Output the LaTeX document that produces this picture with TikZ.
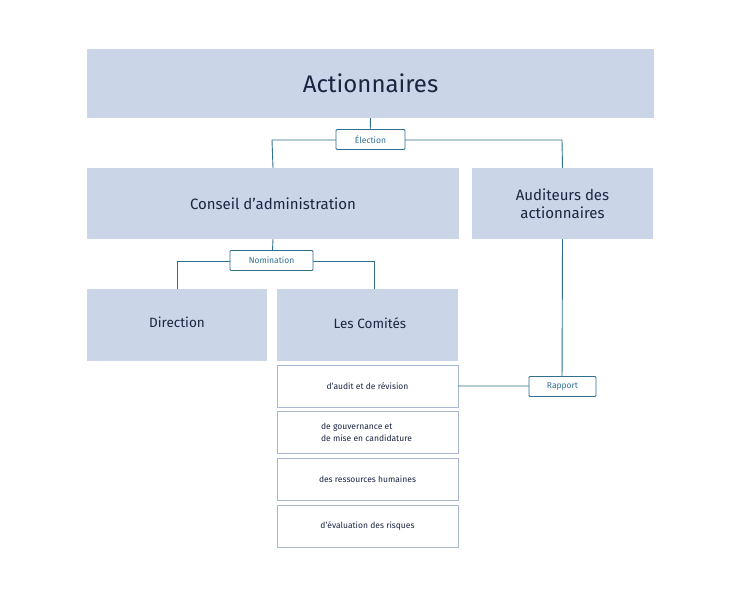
\documentclass[tikz,border=0pt]{standalone}
\usepackage{fontspec}
\setmainfont{Fira Sans}
\definecolor{boxfill}{HTML}{CBD5E8}
\definecolor{lnc}{HTML}{2E6E8E}
\definecolor{txt}{HTML}{1C2540}
\definecolor{subb}{HTML}{A9B6CF}
\begin{document}
\begin{tikzpicture}[x=1pt,y=-1pt,
 big/.style={fill=boxfill,draw=none,inner sep=0pt,text=txt,align=center},
 lab/.style={draw=lnc,fill=white,line width=0.8pt,rounded corners=1pt,text=lnc,font=\fontsize{8.5}{10}\selectfont,minimum width=66pt,minimum height=20pt,inner sep=0pt},
 sub/.style={draw=subb,fill=white,line width=0.8pt,text=txt,font=\fontsize{8.5}{12}\selectfont,minimum width=181pt,minimum height=42pt,inner sep=0pt,align=left},
 ln/.style={draw=lnc,line width=0.9pt}]
\useasboundingbox (0,0) rectangle (740,604);
\node[big,minimum width=567pt,minimum height=69pt,font=\fontsize{24}{28}\selectfont] (act) at (370.5,83.5) {Actionnaires};
\node[big,minimum width=372pt,minimum height=71pt,font=\fontsize{15}{18}\selectfont] (cons) at (273,203.5) {Conseil d'administration};
\node[big,minimum width=181pt,minimum height=71pt,font=\fontsize{15}{18}\selectfont] (aud) at (562.5,203.5) {Auditeurs des\\actionnaires};
\node[big,minimum width=180pt,minimum height=72pt] (dir) at (177,325) {};
\node[font=\fontsize{13.5}{16}\selectfont,text=txt] (dirt) at (177,322) {Direction};
\node[big,minimum width=181pt,minimum height=72pt] (com) at (367.5,325) {};
\node[font=\fontsize{13.5}{16}\selectfont,text=txt] (comt) at (370,323) {Les Comités};
\node[sub] (s1) at (367.5,386) {d’audit et de révision};
\node[sub] (s2) at (367.5,432) {\hspace*{12pt}de gouvernance et\\\hspace*{12pt}de mise en candidature\hspace*{14pt}};
\node[sub] (s3) at (367.5,479) {des ressources humaines};
\node[sub] (s4) at (367.5,526) {d'évaluation des risques};
\coordinate (eL) at (272,140); \coordinate (eR) at (562,140);
\coordinate (nL) at (177,261); \coordinate (nR) at (374,261);
\coordinate (rL) at (458,386);
\draw[ln] (act.south) -- (370,140);
\draw[ln] (cons.north) -- (eL) -- (eR) -- (aud.north);
\node[lab,minimum width=69pt] (el) at (370.5,139.5) {Élection};
\draw[ln] (cons.south) -- (272,261);
\draw[ln] (dir.north) -- (nL) -- (nR) -- (374,289);
\node[lab,minimum width=83pt] (nom) at (271.5,260.5) {Nomination};
\draw[ln] (aud.south) -- (562,386) -- (rL);
\node[lab,minimum width=67pt] (rap) at (562.5,386.5) {Rapport};
\end{tikzpicture}
\end{document}
